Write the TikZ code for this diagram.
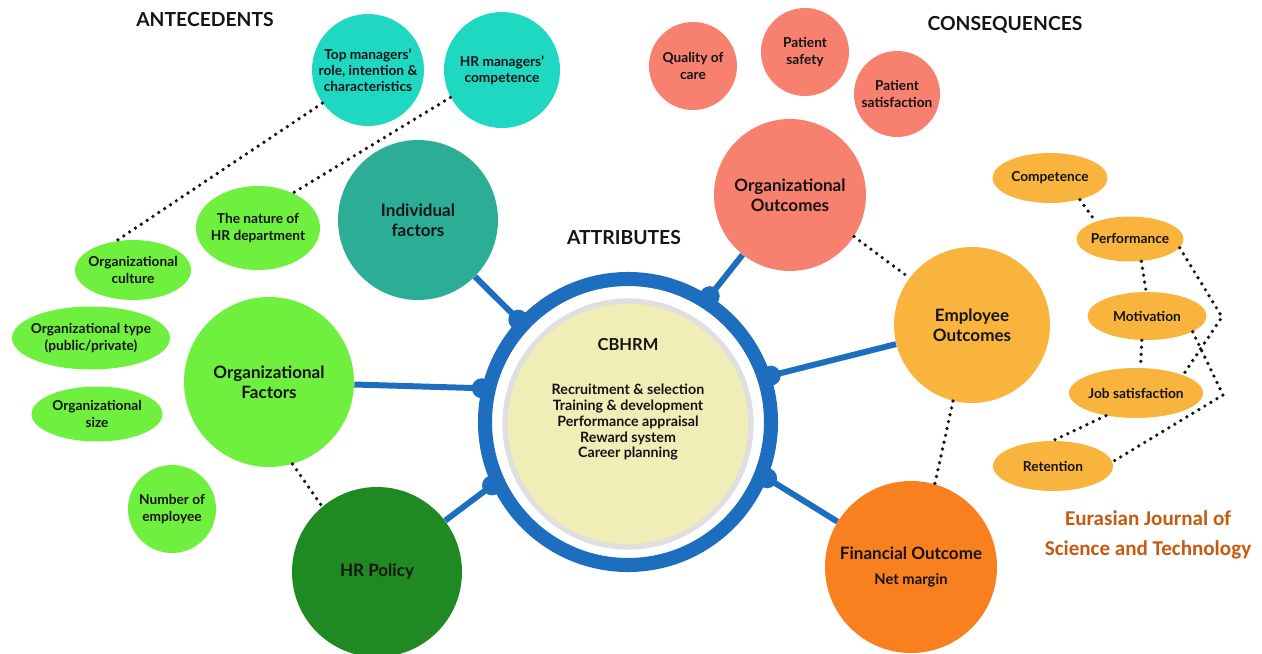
\documentclass[tikz,border=0pt]{standalone}
\usepackage{fontspec}
\setmainfont{Lato}
\newfontfamily\journalfont{Carlito}
\usetikzlibrary{shapes.geometric}

\definecolor{aqua}{HTML}{1ED8C2}
\definecolor{deepteal}{HTML}{2BAE95}
\definecolor{lime}{HTML}{70F03E}
\definecolor{forest}{HTML}{1F8A22}
\definecolor{salmon}{HTML}{F8806E}
\definecolor{amber}{HTML}{F9B43E}
\definecolor{tangerine}{HTML}{F9801F}
\definecolor{ringblue}{HTML}{1E6EBF}
\definecolor{cream}{HTML}{F0EDB6}
\definecolor{inkdark}{HTML}{141414}
\definecolor{journal}{HTML}{C55A11}

\begin{document}
\begin{tikzpicture}[x=0.02cm, y=-0.02cm,
    txt/.style={font=\bfseries\fontsize{7.8}{9.2}\selectfont, text=inkdark, align=center},
    big/.style={font=\bfseries\fontsize{9.7}{11.2}\selectfont},
    bubble/.style={circle, txt, inner sep=0pt, minimum size=#1*0.02cm},
    oval/.style 2 args={ellipse, txt, inner xsep=-10pt, inner ysep=0pt,
        minimum width=#1*0.02cm, minimum height=#2*0.02cm},
    heading/.style={font=\bfseries\fontsize{11}{13}\selectfont, text=inkdark},
    link/.style={ringblue, line width=3.4pt},
    knob/.style={circle, fill=ringblue, inner sep=0pt, minimum size=0.4cm},
    dots/.style={inkdark, line width=2.1pt, line cap=round, dash pattern=on 0pt off 4pt}]

    \useasboundingbox (0,0) rectangle (1262,653);

    % Headings
    \node[heading] (antec) at (205,20) {ANTECEDENTS};
    \node[heading] (attrib) at (624,238) {ATTRIBUTES};
    \node[heading] (conseq) at (1005,25) {CONSEQUENCES};

    % Antecedents
    \node[bubble=112, fill=aqua] (topmgr) at (368,70) {Top managers'\\role, intention \&\\characteristics};
    \node[bubble=116, fill=aqua] (hrmgr) at (502,70) {HR managers'\\competence};
    \node[oval={124}{84}, fill=lime] (hrdept) at (258,228) {The nature of\\HR department};
    \node[oval={116}{60}, fill=lime] (culture) at (133,270) {Organizational\\culture};
    \node[oval={158}{63}, fill=lime] (orgtype) at (91,338) {Organizational type\\(public/private)};
    \node[oval={131}{55}, fill=lime] (orgsize) at (97,414) {Organizational\\size};
    \node[bubble=88, fill=lime] (staff) at (172,509) {Number of\\employee};
    \node[bubble=170, fill=lime, big] (orgfac) at (269,382) {Organizational\\Factors};
    \node[bubble=160, fill=deepteal, big] (indiv) at (418,220) {Individual\\factors};
    \node[bubble=170, fill=forest, big] (hrpol) at (377,572) {HR Policy};

    % Consequences
    \node[bubble=88, fill=salmon] (quality) at (693,66) {Quality of\\care};
    \node[bubble=88, fill=salmon] (safety) at (805,52) {Patient\\safety};
    \node[bubble=86, fill=salmon] (satisf) at (897,94) {Patient\\satisfaction};
    \node[bubble=152, fill=salmon, big] (orgout) at (790,195) {Organizational\\Outcomes};
    \node[bubble=156, fill=amber, big] (empout) at (972,325) {Employee\\Outcomes};
    \node[bubble=172, fill=tangerine, big] (finout) at (911,567) {Financial Outcome\\[3pt]{\fontsize{8.4}{10}\selectfont Net margin}};

    \node[oval={115}{50}, fill=amber] (compet) at (1050,178) {Competence};
    \node[oval={107}{45}, fill=amber] (perform) at (1130,239) {Performance};
    \node[oval={119}{48}, fill=amber] (motiv) at (1147,316) {Motivation};
    \node[oval={134}{50}, fill=amber] (jobsat) at (1136,393) {Job satisfaction};
    \node[oval={120}{50}, fill=amber] (retain) at (1053,466) {Retention};
    \coordinate (bendA) at (1222,317);
    \coordinate (bendB) at (1223,395);

    % CBHRM ring
    \node[circle, draw=ringblue, line width=8pt, minimum size=286*0.02cm] (ring) at (628,422) {};
    \node[circle, fill=cream, draw=gray!25, line width=3pt, minimum size=246*0.02cm] (core) at (628,424) {};
    \node[txt, font=\bfseries\fontsize{9.4}{11}\selectfont] (cbhrm) at (628,345) {CBHRM};
    \node[txt, font=\bfseries\fontsize{8.1}{9.1}\selectfont] (tasks) at (628,422)
        {Recruitment \& selection\\Training \& development\\Performance appraisal\\Reward system\\Career planning};

    % Blue links to the ring
    \foreach \src/\ang in {indiv/137, orgfac/167, hrpol/205, orgout/57, empout/18, finout/-22} {
        \draw[link] (\src) -- (ring.\ang);
        \node[knob] (k-\src) at (ring.\ang) {};
    }

    % Dotted links
    \foreach \a/\b in {topmgr.216/culture.120, hrmgr.208/hrdept.45, orgfac.-74/hrpol.130,
        orgout.-33/empout.143, empout.-104/finout.74, compet.-36/perform.153,
        perform.-63/motiv.92, motiv.-102/jobsat.80, jobsat.217/retain.90}
        \draw[dots] (\a) -- (\b);
    \draw[dots] (perform.-10) -- (bendA) -- (jobsat.21);
    \draw[dots] (motiv.-19) -- (bendB) -- (retain.4);

    % Journal
    \node[font=\journalfont\bfseries\fontsize{12}{17}\selectfont, text=journal, align=center] (jrnl)
        at (1148,535) {Eurasian Journal of\\Science and Technology};
\end{tikzpicture}
\end{document}
